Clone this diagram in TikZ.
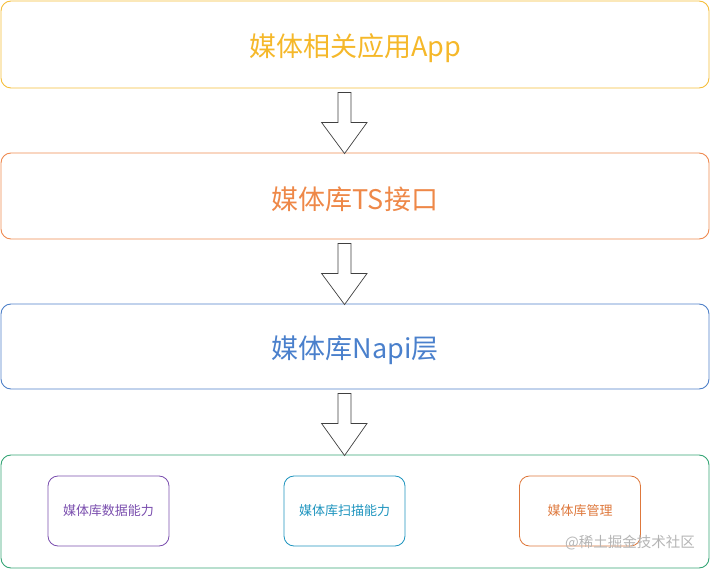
\documentclass[tikz,border=0pt]{standalone}
\usepackage{fontspec}
\setmainfont{Noto Sans CJK SC}
\usetikzlibrary{calc}
\definecolor{cyel}{HTML}{F5BE3A}
\definecolor{cyelt}{HTML}{F5B82A}
\definecolor{cora}{HTML}{EE8A50}
\definecolor{corat}{HTML}{EE8848}
\definecolor{cblu}{HTML}{4E80C8}
\definecolor{cblut}{HTML}{4A80CC}
\definecolor{cgrn}{HTML}{35A575}
\definecolor{cpur}{HTML}{7A4EAE}
\definecolor{ccya}{HTML}{1E94BE}
\definecolor{cora2}{HTML}{DE783C}
\definecolor{cwm}{HTML}{B4B4B4}
\tikzset{
  x=1pt, y=1pt,
  bigbox/.style={draw, rounded corners=10pt, line width=0.9pt, inner sep=0pt, font=\fontsize{27}{30}\selectfont},
  smallbox/.style={draw, rounded corners=10pt, line width=0.8pt, inner sep=0pt, minimum width=121pt, minimum height=70pt, font=\fontsize{13}{15}\selectfont},
  blockarrow/.style={draw=black!75, line width=0.7pt, fill=white, line join=miter}
}
\newcommand{\blockarr}[2]{% #1 = from node, #2 = to node
  \draw[blockarrow] ($(#1.south west)+(337.5,-4)$) -- ++(13,0) -- ++(0,-30) -- ++(16,0)
     -- ($(#2.north west)+(344,-1)$) -- ($(#1.south west)+(321,-34)$) -- ++(16.5,0) -- cycle;
}
\newcommand{\lowtxt}[1]{\raisebox{-3.5pt}[\height][\depth]{#1}}
\begin{document}
\begin{tikzpicture}
\useasboundingbox (0,0) rectangle (710,-569);
\node[bigbox, draw=cyel, text=cyelt, minimum width=708pt, minimum height=87pt] (app) at (355,-44.5) {\lowtxt{媒体相关应用App}};
\node[bigbox, draw=cora, text=corat, minimum width=708pt, minimum height=86pt] (ts) at (355,-196) {\lowtxt{媒体库TS接口}};
\node[bigbox, draw=cblu, text=cblut, minimum width=708pt, minimum height=85pt] (napi) at (355,-346.5) {\lowtxt{媒体库Napi层}};
\node[bigbox, draw=cgrn, minimum width=708pt, minimum height=113pt] (core) at (355,-511.5) {};
\node[smallbox, draw=cpur, text=cpur] (data) at (108.5,-511) {媒体库数据能力};
\node[smallbox, draw=ccya, text=ccya] (scan) at (344.5,-511) {媒体库扫描能力};
\node[smallbox, draw=cora2, text=cora2] (mgr) at (580,-511) {媒体库管理};
\node[text=cwm, font=\fontsize{14.5}{16}\selectfont, inner sep=0pt, anchor=east] (wm) at (695,-543) {@稀土掘金技术社区};
\blockarr{app}{ts}
\blockarr{ts}{napi}
\blockarr{napi}{core}
\end{tikzpicture}
\end{document}
